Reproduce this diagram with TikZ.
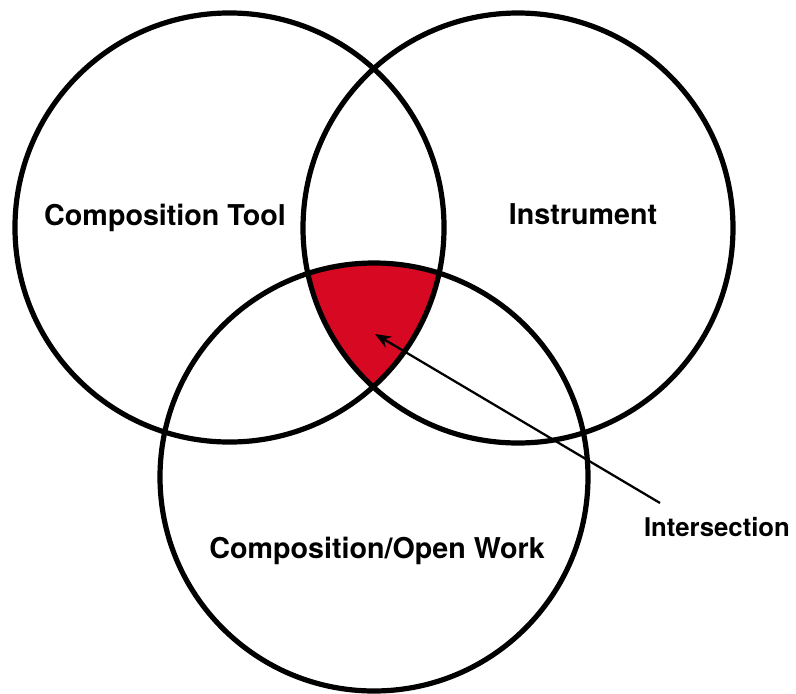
\documentclass[tikz,border=0pt]{standalone}
\usepackage{fontspec}
\setmainfont{TeX Gyre Heros}
\usetikzlibrary{arrows.meta}
\definecolor{venred}{RGB}{214,8,34}
\tikzset{
  setcircle/.style={circle, draw=black, line width=3.9pt, inner sep=0pt},
  setlabel/.style={font=\bfseries\fontsize{21.5}{24}\selectfont, anchor=base, inner sep=0pt},
  pointerlabel/.style={font=\bfseries\fontsize{19.3}{22}\selectfont, anchor=base, inner sep=0pt},
  pointer/.style={line width=1.7pt, -{Stealth[length=12pt,width=9.5pt]}}
}
\begin{document}
\begin{tikzpicture}[x=0.75pt,y=-0.75pt]
\useasboundingbox (0,0) rectangle (796,693);
% red triple intersection
\begin{scope}
  \clip (229.5,227.5) circle[radius=160.9pt];
  \clip (518,228) circle[radius=161.25pt];
  \fill[venred] (374,477) circle[radius=160.5pt];
\end{scope}
\node[setcircle, minimum size=321.8pt] (tool) at (229.5,227.5) {};
\node[setcircle, minimum size=322.5pt] (instr) at (518,228) {};
\node[setcircle, minimum size=321pt] (work) at (374,477) {};
\node[setlabel] (ltool) at (165,225) {Composition Tool};
\node[setlabel] (linstr) at (583,224) {Instrument};
\node[setlabel] (lwork) at (377,558) {Composition/Open Work};
\node[pointerlabel] (linter) at (717,536) {Intersection};
\coordinate (tail) at (660,503);
\coordinate (tip) at (375,334);
\draw[pointer] (tail) -- (tip);
\end{tikzpicture}
\end{document}
